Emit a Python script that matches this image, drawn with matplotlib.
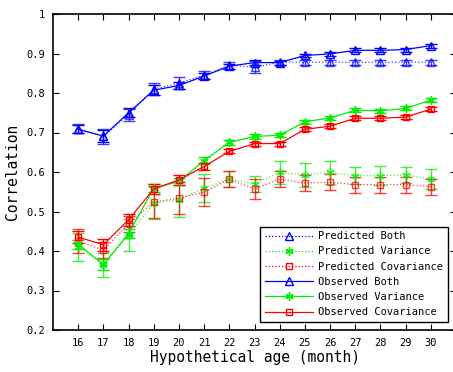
import matplotlib
matplotlib.use("Agg")
import matplotlib.pyplot as plt
from matplotlib.lines import Line2D
import numpy as np

ages = [16, 17, 18, 19, 20, 21, 22, 23, 24, 25, 26, 27, 28, 29, 30]

pred_both = [0.710, 0.690, 0.745, 0.810, 0.825, 0.845, 0.870, 0.865, 0.878, 0.878, 0.878, 0.878, 0.878, 0.878, 0.878]
pred_both_err = [0.012, 0.020, 0.015, 0.015, 0.015, 0.010, 0.008, 0.015, 0.006, 0.006, 0.006, 0.006, 0.006, 0.006, 0.006]
obs_both = [0.708, 0.691, 0.750, 0.807, 0.819, 0.843, 0.868, 0.877, 0.877, 0.895, 0.899, 0.908, 0.908, 0.910, 0.920]
obs_both_err = [0.010, 0.015, 0.012, 0.012, 0.010, 0.008, 0.006, 0.006, 0.005, 0.005, 0.005, 0.005, 0.005, 0.005, 0.005]

pred_var = [0.410, 0.365, 0.440, 0.521, 0.530, 0.559, 0.582, 0.570, 0.599, 0.593, 0.599, 0.591, 0.591, 0.593, 0.582]
pred_var_err = [0.035, 0.030, 0.040, 0.040, 0.045, 0.035, 0.020, 0.020, 0.030, 0.030, 0.030, 0.022, 0.025, 0.020, 0.025]
obs_var = [0.417, 0.366, 0.444, 0.559, 0.576, 0.629, 0.675, 0.690, 0.693, 0.727, 0.737, 0.756, 0.755, 0.761, 0.782]
obs_var_err = [0.012, 0.015, 0.012, 0.010, 0.010, 0.008, 0.006, 0.006, 0.005, 0.005, 0.005, 0.005, 0.005, 0.005, 0.005]

pred_cov = [0.425, 0.402, 0.469, 0.524, 0.534, 0.549, 0.582, 0.557, 0.582, 0.572, 0.574, 0.568, 0.568, 0.568, 0.563]
pred_cov_err = [0.030, 0.020, 0.020, 0.040, 0.040, 0.035, 0.020, 0.025, 0.020, 0.020, 0.020, 0.020, 0.020, 0.020, 0.020]
obs_cov = [0.435, 0.416, 0.479, 0.557, 0.580, 0.614, 0.652, 0.672, 0.672, 0.708, 0.716, 0.736, 0.736, 0.739, 0.759]
obs_cov_err = [0.015, 0.015, 0.015, 0.012, 0.012, 0.008, 0.005, 0.005, 0.005, 0.005, 0.005, 0.005, 0.005, 0.005, 0.005]

yticks = [0.2, 0.3, 0.4, 0.5, 0.6, 0.7, 0.8, 0.9, 1.0]
ytick_labels = ["0.2", "0.3", "0.4", "0.5", "0.6", "0.7", "0.8", "0.9", "1"]

plt.rcParams['font.family'] = ['DejaVu Sans Mono']

fig = plt.figure(figsize=(4.53, 3.72), dpi=100)
ax = fig.add_axes([53/453, 42/372, 403/453, 316/372])

BLUE, GREEN, RED = '#0000ff', '#00ee00', '#ff0000'
ASTER = (6, 2, 0)

series = [
    (pred_both, pred_both_err, BLUE, '^', ':', 'Predicted Both', 5.5, 0.75),
    (pred_var, pred_var_err, GREEN, ASTER, ':', 'Predicted Variance', 6.0, 0.75),
    (pred_cov, pred_cov_err, RED, 's', ':', 'Predicted Covariance', 5.0, 0.75),
    (obs_both, obs_both_err, BLUE, '^', '-', 'Observed Both', 5.5, 1.0),
    (obs_var, obs_var_err, GREEN, ASTER, '-', 'Observed Variance', 6.0, 1.0),
    (obs_cov, obs_cov_err, RED, 's', '-', 'Observed Covariance', 5.0, 1.0),
]
handles = []
for vals, err, c, m, ls, lab, ms, a in series:
    ax.errorbar(ages, vals, yerr=err, color=c, marker=m, linestyle=ls,
                markersize=ms, markerfacecolor='none',
                markeredgecolor=c, markeredgewidth=1.0, linewidth=0.9,
                elinewidth=1.0, capsize=4.5, capthick=1.0, alpha=a)
    handles.append(Line2D([], [], color=c, marker=m, linestyle=ls, markersize=ms,
                          markerfacecolor='none', markeredgecolor=c,
                          markeredgewidth=1.0, linewidth=0.9, label=lab))

ax.set_xlim(15, 31)
ax.set_ylim(0.2, 1.0)
ax.set_xticks(ages)
ax.set_xticklabels([str(a) for a in ages])
ax.set_yticks(yticks)
ax.set_yticklabels(ytick_labels)
ax.tick_params(direction='in', top=True, right=True, length=4, width=0.8, labelsize=7.5, pad=6)
for s in ax.spines.values():
    s.set_linewidth(1.2)

ax.set_xlabel('Hypothetical age (month)', fontsize=10.5, labelpad=1)
ax.set_ylabel('Correlation', fontsize=10.5, labelpad=4)

leg = ax.legend(handles=handles, loc='lower left', bbox_to_anchor=(207/403, 8/316), fontsize=7.5,
                frameon=True, fancybox=False, edgecolor='black', framealpha=1,
                handlelength=4.6, borderpad=0.45, labelspacing=0.5, handletextpad=0.5,
                borderaxespad=0)
leg.get_frame().set_linewidth(1.0)

fig.savefig('out.png', dpi=100)
